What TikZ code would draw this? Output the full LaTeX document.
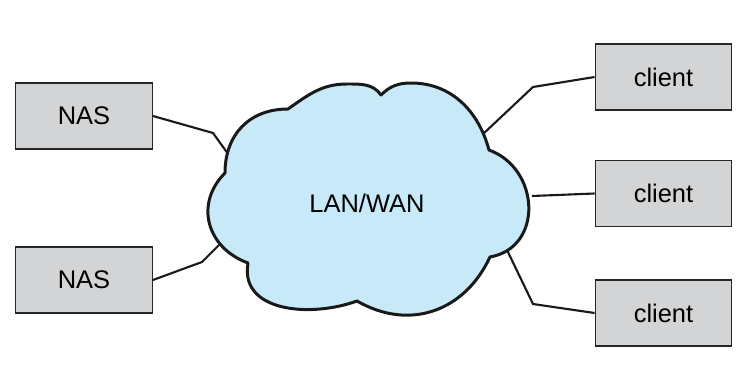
\documentclass[tikz,border=0pt]{standalone}
\usepackage{fontspec}
\setmainfont{Liberation Sans}
\usetikzlibrary{positioning}
\definecolor{boxgray}{RGB}{211,212,214}
\definecolor{cloudblue}{RGB}{200,233,248}

\begin{document}
\begin{tikzpicture}[x=0.02cm, y=0.02cm, font=\fontsize{14.5}{17}\selectfont,
  box/.style={draw=black!85, fill=boxgray, line width=0.8pt, inner sep=0pt,
              minimum width=2.73cm, minimum height=1.32cm},
  wire/.style={line width=1.2pt, draw=black!90},
  cloudline/.style={draw=black!90, fill=cloudblue, line width=1.7pt, line join=round}]
\useasboundingbox (0,0) rectangle (752,390);

% storage on the left, clients on the right
\node[box] (nas1) at (84,274) {NAS};
\node[box] (nas2) at (84,110) {NAS};
\node[box] (cl1) at (663.5,313) {client};
\node[box] (cl2) at (663.5,196.5) {client};
\node[box] (cl3) at (663.5,77) {client};

% bends of the wires and where they meet the cloud
\coordinate (k1) at (213,257);  \coordinate (e1) at (231,232);
\coordinate (k2) at (202,128);  \coordinate (e2) at (220,146);
\coordinate (k3) at (533,303);  \coordinate (e3) at (482,255);
\coordinate (e4) at (532,194);
\coordinate (k5) at (533,86);   \coordinate (e5) at (507,140);

\draw[wire] (nas1.east) -- (k1) -- (e1);
\draw[wire] (nas2.east) -- (k2) -- (e2);
\draw[wire] (cl1.west) -- (k3) -- (e3);
\draw[wire] (cl2.west) -- (e4);
\draw[wire] (cl3.west) -- (k5) -- (e5);

% the network cloud, one lobe per segment
\path[cloudline] (381,295)
  to[out=125, in=0] (347,306) to[out=180, in=35] (288,281)
  to[out=180, in=90, looseness=1.1] (225,217)
  to[out=225, in=160, looseness=1.2] (248,127)
  to[out=260, in=200, looseness=1.1] (357,89)
  to[out=330, in=245, looseness=1.1] (490,133)
  to[out=10, in=340, looseness=1.3] (489,240)
  to[out=105, in=0] (411,307) to[out=180, in=45] cycle;
\node (lan) at (367,187) {LAN/WAN};
\end{tikzpicture}
\end{document}
